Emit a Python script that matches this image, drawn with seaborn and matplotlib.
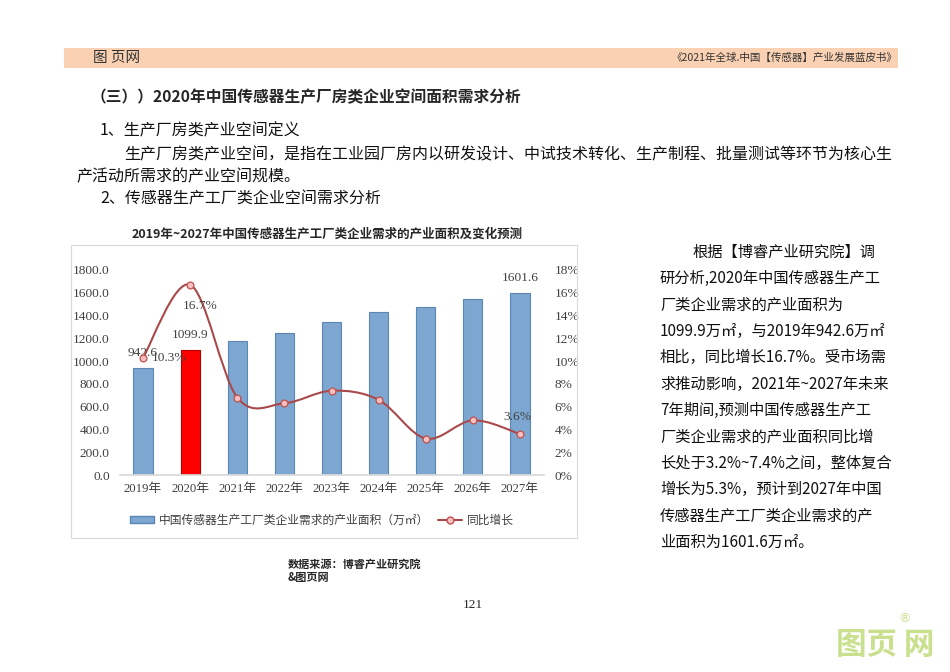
import numpy as np
import pandas as pd
import matplotlib
matplotlib.use("Agg")
import matplotlib.pyplot as plt
import seaborn as sns
from matplotlib.path import Path
from matplotlib.patches import PathPatch, Patch, Rectangle
from matplotlib.lines import Line2D

# =========================
#  Data
# =========================
years = ["2019年", "2020年", "2021年", "2022年", "2023年", "2024年", "2025年", "2026年", "2027年"]
area = [942.6, 1099.9, 1178.0, 1250.0, 1344.0, 1431.0, 1477.0, 1548.0, 1601.6]   # 万㎡
growth = [10.3, 16.7, 6.8, 6.3, 7.4, 6.6, 3.2, 4.8, 3.6]                          # %
area_ticks = [0, 200, 400, 600, 800, 1000, 1200, 1400, 1600, 1800]
growth_ticks = [0, 2, 4, 6, 8, 10, 12, 14, 16, 18]
bar_labels_at = [0, 1, 8]
growth_labels_at = [0, 1, 8]

chart_title = "2019年~2027年中国传感器生产工厂类企业需求的产业面积及变化预测"
bar_name = "中国传感器生产工厂类企业需求的产业面积（万㎡）"
line_name = "同比增长"

heading = "（三））2020年中国传感器生产厂房类企业空间面积需求分析"
body_lines = [
    (100, 131, "1、生产厂房类产业空间定义"),
    (124, 155, "生产厂房类产业空间，是指在工业园厂房内以研发设计、中试技术转化、生产制程、批量测试等环节为核心生"),
    (76, 177, "产活动所需求的产业空间规模。"),
    (100, 199, "2、传感器生产工厂类企业空间需求分析"),
]
side_lines = [
    "根据【博睿产业研究院】调",
    "研分析,2020年中国传感器生产工",
    "厂类企业需求的产业面积为",
    "1099.9万㎡，与2019年942.6万㎡",
    "相比，同比增长16.7%。受市场需",
    "求推动影响，2021年~2027年未来",
    "7年期间,预测中国传感器生产工",
    "厂类企业需求的产业面积同比增",
    "长处于3.2%~7.4%之间，整体复合",
    "增长为5.3%，预计到2027年中国",
    "传感器生产工厂类企业需求的产",
    "业面积为1601.6万㎡。",
]

# =========================
#  Style
# =========================
sns.set_theme(style="white")
plt.rcParams["font.family"] = ["Noto Sans CJK SC", "DejaVu Sans"]
SERIF = ["Liberation Serif", "Noto Sans CJK SC", "DejaVu Sans"]

BLUE = "#7DA7D1"
BLUE_EDGE = "#5A86B4"
RED = "#FF0000"
RED_EDGE = "#B00000"
LINE = "#A9494A"
MARK_FACE = "#F7BFC0"
MARK_EDGE = "#C0504D"

W, H = 950, 672
fig = plt.figure(figsize=(9.5, 6.72), dpi=100)
fig.patch.set_facecolor("white")


def fx(px):
    return px / W


def fy(py):
    return 1 - py / H


# page header band
fig.patches.append(Rectangle((fx(64), fy(68)), (898 - 64) / W, 20 / H,
                             transform=fig.transFigure, facecolor="#FAD1B3",
                             edgecolor="none", zorder=0))
fig.text(fx(93), fy(58), "图 页网", fontsize=10.5, style="italic", color="#333333",
         ha="left", va="center")
fig.text(fx(897), fy(58), "《2021年全球.中国【传感器】产业发展蓝皮书》", fontsize=7.6,
         style="italic", color="#333333", ha="right", va="center")

fig.text(fx(91), fy(97), heading, fontsize=11.3, fontweight="bold", ha="left", va="center")
for x, y, s in body_lines:
    fig.text(fx(x), fy(y), s, fontsize=11.5, ha="left", va="center", color="#111111")

for i, s in enumerate(side_lines):
    x0 = 692 if i == 0 else 660
    fig.text(fx(x0), fy(252 + i * 26.4), s, fontsize=11, ha="left", va="center",
             color="#111111")

# chart frame + title
fig.patches.append(Rectangle((fx(71), fy(538)), (577 - 71) / W, (538 - 245) / H,
                             transform=fig.transFigure, facecolor="none",
                             edgecolor="#D9D9D9", lw=0.8))
fig.text(fx(327), fy(234), chart_title, fontsize=9, fontweight="bold",
         ha="center", va="center")

# =========================
#  Bars
# =========================
ax = fig.add_axes([fx(119.5), fy(475), 424 / W, 205 / H])
df = pd.DataFrame({"year": years, "area": area})
colors = [RED if i == 1 else BLUE for i in range(len(years))]
sns.barplot(data=df, x="year", y="area", hue="year", palette=colors, legend=False,
            width=0.41, saturation=1, ax=ax)
for i, p in enumerate(ax.patches):
    p.set_edgecolor(RED_EDGE if i == 1 else BLUE_EDGE)
    p.set_linewidth(0.8)

ax.set_xlim(-0.5, len(years) - 0.5)
ax.set_ylim(0, 1800)
ax.set_yticks(area_ticks)
ax.set_yticklabels([f"{v:.1f}" for v in area_ticks], family=SERIF, fontsize=9.6,
                   color="#404040")
ax.set_xticks(range(len(years)))
ax.set_xticklabels(years, family=SERIF, fontsize=9.2, color="#404040")
ax.set_xlabel("")
ax.set_ylabel("")
ax.tick_params(length=0)
ax.tick_params(axis="y", pad=7)
ax.tick_params(axis="x", pad=6)
for side in ["top", "left", "right"]:
    ax.spines[side].set_visible(False)
ax.spines["bottom"].set_color("#D9D9D9")
ax.grid(False)

for i in bar_labels_at:
    ax.annotate(f"{area[i]:.1f}", (i, area[i]), xytext=(0, 10.3),
                textcoords="offset points", ha="center", va="center",
                fontsize=9.6, family=SERIF, color="#404040")

# =========================
#  Growth line (smoothed)
# =========================
ax2 = ax.twinx()
pts = np.column_stack([np.arange(len(growth)), growth]).astype(float)
verts = [pts[0]]
codes = [Path.MOVETO]
n = len(pts)
for i in range(n - 1):
    p0 = pts[max(i - 1, 0)]
    p1 = pts[i]
    p2 = pts[i + 1]
    p3 = pts[min(i + 2, n - 1)]
    verts += [p1 + (p2 - p0) / 6, p2 - (p3 - p1) / 6, p2]
    codes += [Path.CURVE4] * 3
ax2.add_patch(PathPatch(Path(verts, codes), fill=False, edgecolor=LINE, lw=1.5, zorder=3))
sns.scatterplot(x=np.arange(len(growth)), y=growth, ax=ax2, s=24, color=MARK_FACE,
                edgecolor=MARK_EDGE, linewidth=0.9, zorder=5)

ax2.set_ylim(0, 18)
ax2.set_xlim(-0.5, len(years) - 0.5)
ax2.set_yticks(growth_ticks)
ax2.set_yticklabels([f"{v}%" for v in growth_ticks], family=SERIF, fontsize=9.6,
                    color="#404040")
ax2.tick_params(length=0, pad=8)
ax2.set_ylabel("")
for side in ["top", "left", "right", "bottom"]:
    ax2.spines[side].set_visible(False)
ax2.grid(False)

growth_offsets = {0: (6.5, 0, "left"), 1: (7.5, -15, "center"), 8: (-1.5, 12, "center")}
for i in growth_labels_at:
    dx, dy, ha = growth_offsets[i]
    ax2.annotate(f"{growth[i]}%", (i, growth[i]), xytext=(dx, dy),
                 textcoords="offset points", ha=ha, va="center",
                 fontsize=9.6, family=SERIF, color="#404040", zorder=6)

# legend
handles = [
    Patch(facecolor=BLUE, edgecolor=BLUE_EDGE, label=bar_name),
    Line2D([0], [0], color=LINE, lw=1.5, marker="o", markersize=5,
           markerfacecolor=MARK_FACE, markeredgecolor=MARK_EDGE, label=line_name),
]
fig.legend(handles=handles, loc="center", bbox_to_anchor=(fx(322), fy(520)), ncol=2,
           frameon=False, fontsize=8.5, handlelength=2.0, handleheight=0.6,
           handletextpad=0.4, columnspacing=0.8, labelcolor="#404040")

# source, page number, watermark
fig.text(fx(288), fy(564), "数据来源：博睿产业研究院", fontsize=8, fontweight="bold",
         ha="left", va="center")
fig.text(fx(288), fy(578), "&图页网", fontsize=8, fontweight="bold",
         ha="left", va="center")
fig.text(fx(473), fy(605), "121", family=SERIF, fontsize=9.5, ha="center", va="center")
fig.text(fx(885), fy(645), "图页 网", fontsize=22, fontweight="bold", color="#C9E08E",
         ha="center", va="center")
fig.text(fx(905), fy(619), "®", fontsize=9, color="#C9E08E", ha="center", va="center",
         family=["DejaVu Sans"])

fig.savefig("out.png", dpi=100, facecolor="white")
plt.close(fig)
